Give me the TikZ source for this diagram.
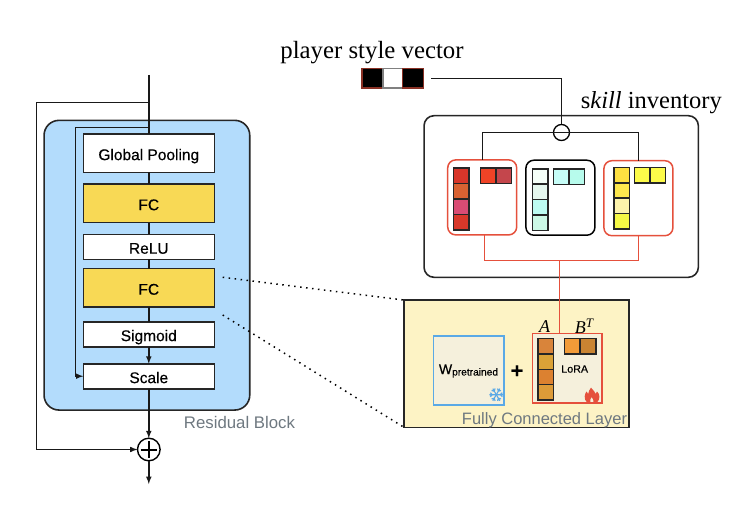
\documentclass[tikz,border=0pt]{standalone}
\usepackage{fontspec}
\setmainfont{Liberation Serif}
\newfontfamily\boxfont[FakeBold=0.35]{Liberation Sans}
\newfontfamily\plainfont{Liberation Sans}
\usetikzlibrary{arrows}
\definecolor{BlockClr}{HTML}{B3DCFC}
\definecolor{FcClr}{HTML}{F8D955}
\definecolor{LayerClr}{HTML}{FDF3C5}
\definecolor{InnerClr}{HTML}{F5F0DC}
\definecolor{RedClr}{HTML}{E5503C}
\definecolor{IceClr}{HTML}{5AA9E6}
\definecolor{CapClr}{HTML}{6E7880}
\newcommand{\fsz}[1]{\fontsize{#1}{#1}\selectfont}
\tikzset{
  layerbox/.style={draw=black!85,line width=1.6pt,fill=white,minimum width=131pt,
    inner sep=0pt,outer sep=0pt,font=\boxfont\fsz{15.5},text height=13.8pt,text depth=0pt},
  cellbox/.style={draw=black!85,line width=1.5pt,minimum width=15.5pt,minimum height=15.5pt,
    inner sep=0pt,outer sep=0pt},
  skillbox/.style={rounded corners=8pt,line width=1.5pt,fill=white,minimum width=69pt,
    minimum height=75pt,inner sep=0pt,outer sep=0pt},
  wire/.style={line width=1.5pt,black!90},
  redwire/.style={line width=1.8pt,RedClr},
  arrowwire/.style={wire,-latex},
  dotline/.style={line width=1.5pt,dash pattern=on 1.5pt off 4.5pt}
}
\begin{document}
\begin{tikzpicture}[x=1pt,y=-1pt]
\useasboundingbox (0,0) rectangle (744,508);

% Residual block on the left.
\node[draw=black!85,line width=1.6pt,rounded corners=15pt,fill=BlockClr,minimum width=205.7pt,
  minimum height=289.7pt,inner sep=0pt,outer sep=0pt] (blockbox) at (146.9,265.2) {};

\coordinate (intop) at (148.8,75);
\coordinate (outerturn) at (148.8,102.5);
\coordinate (outerleft) at (36.5,102.5);
\coordinate (innerturn) at (148.8,127.5);
\coordinate (innerleft) at (75.5,127.5);
\coordinate (outend) at (148.8,484);

\node[layerbox,minimum height=38.3pt] (poolbox) at (148.8,153.2) {Global Pooling};
\node[layerbox,minimum height=38.7pt,fill=FcClr] (fcabox) at (148.8,203.3) {FC};
\node[layerbox,minimum height=25pt] (relubox) at (148.8,246.8) {ReLU};
\node[layerbox,minimum height=38.3pt,fill=FcClr] (fcbbox) at (148.8,287.8) {FC};
\node[layerbox,minimum height=25pt] (sigbox) at (148.8,334.2) {Sigmoid};
\node[layerbox,minimum height=25pt] (scalebox) at (148.8,376.2) {Scale};
\node[draw=black,line width=1.4pt,circle,minimum size=22.6pt,inner sep=0pt,outer sep=0pt,fill=white] (plusnode) at (148.8,449.5) {};
\draw[line width=2pt] (plusnode.west) ++(3,0) -- ++(16.6,0);
\draw[line width=2pt] (plusnode.north) ++(0,3) -- ++(0,16.6);

\draw[wire] (intop) -- (poolbox.north);
\draw[wire] (poolbox) -- (fcabox) (fcabox) -- (relubox) (relubox) -- (fcbbox) (fcbbox) -- (sigbox);
\draw[arrowwire] (sigbox) -- (scalebox);
\draw[arrowwire] (scalebox) -- (plusnode);
\draw[arrowwire] (plusnode) -- (outend);
\draw[wire] (outerturn) -- (outerleft);
\draw[arrowwire] (outerleft) |- (plusnode);
\draw[wire] (innerturn) -- (innerleft);
\draw[arrowwire] (innerleft) |- (scalebox.west);

\node[font=\plainfont\fsz{16.8},text=CapClr,inner sep=0pt] (blockname) at (239.5,422.7) {Residual Block};

% Player style vector.
\node[font=\fsz{24.8},inner sep=0pt] (stylename) at (372,53) {player style vector};
\node[cellbox,draw=RedClr!60!black,fill=black,minimum width=21pt,minimum height=19.7pt] (stylea) at (372.5,78.2) {};
\node[cellbox,draw=black!50,fill=white,minimum width=19.7pt,minimum height=19.7pt] (styleb) at (392.8,78.2) {};
\node[cellbox,draw=RedClr!60!black,fill=black,minimum width=21pt,minimum height=19.7pt] (stylec) at (413,78.2) {};
\coordinate (stylestart) at (431,78.5);

% Skill inventory.
\node[draw=black!85,line width=1.6pt,rounded corners=10pt,minimum width=274.3pt,minimum height=161.6pt,
  inner sep=0pt,outer sep=0pt] (invbox) at (561.2,196.5) {};
\node[font=\fsz{24.5},inner sep=0pt,anchor=base west] (invname) at (580.7,108.5) {s\textit{kill} inventory};

\node[skillbox,draw=RedClr] (skilla) at (482.2,197.4) {};
\node[skillbox,draw=black] (skillb) at (560.4,197.7) {};
\node[skillbox,draw=RedClr] (skillc) at (638.4,198.2) {};

% Cells of each skill.
\foreach \n/\x/\y/\c in {1/461.2/175.9/D8362A,2/461.2/191.3/D96232,3/461.2/206.7/D94C74,4/461.2/222/D8382A,
  5/488.4/175.9/EF4326,6/503.8/175.9/C4464C,
  7/540.4/176.5/F5FFF8,8/540.4/191.9/E6F8EF,9/540.4/207.3/BDFCF2,10/540.4/222.5/CCF9E6,
  11/561.2/176.7/C6FDF7,12/576.8/176.7/B7FBEC,
  13/621.5/175.2/FEE041,14/621.5/190.5/FEE84E,15/621.5/205.8/FDF3AB,16/621.5/221/F5F845,
  17/642.4/175.4/FDFB4A,18/657.7/175.4/FDFB4A}{
  \definecolor{CellClr}{HTML}{\c}
  \node[cellbox,fill=CellClr] (cell\n) at (\x,\y) {};
}

\coordinate (mixleft) at (482.5,132.5);
\coordinate (mixright) at (638.5,132.5);
\node[draw=black,line width=1.3pt,circle,minimum size=16pt,inner sep=0pt,outer sep=0pt] (mixnode) at (561.5,132.5) {};
\draw[wire] (stylestart) -| (mixnode.north);
\draw[wire] (mixleft |- skilla.north) -- (mixleft) -- (mixright) -- (mixright |- skillc.north);

% Fully connected layer.
\node[draw=black!85,line width=1.6pt,fill=LayerClr,minimum width=225pt,minimum height=127.3pt,
  inner sep=0pt,outer sep=0pt] (layerbox) at (516.5,363.7) {};
\draw[dotline] (222.7,277.3) -- (layerbox.north west);
\draw[dotline] (222.7,315) -- (layerbox.south west);
\node[draw=IceClr,line width=1.6pt,fill=InnerClr,minimum width=70.7pt,minimum height=69pt,
  inner sep=0pt,outer sep=0pt] (frozenbox) at (468.7,370.2) {};
\node[draw=RedClr,line width=1.6pt,fill=InnerClr,minimum width=69.4pt,minimum height=69.7pt,
  inner sep=0pt,outer sep=0pt] (lorabox) at (567,368.2) {};

\foreach \n/\x/\y/\c in {1/545.5/346.2/D9843A,2/545.5/361.7/DBA237,3/545.5/377/DC8130,4/545.5/392.3/DD9B38,
  5/572.3/346.4/F29B38,6/588.3/346.4/C98432}{
  \definecolor{CellClr}{HTML}{\c}
  \node[cellbox,fill=CellClr] (lora\n) at (\x,\y) {};
}

\coordinate (redleft) at (484.5,260.5);
\coordinate (redright) at (638.5,260.5);
\coordinate (redmid) at (559.5,260.5);
\draw[redwire] (redleft |- skilla.south) -- (redleft) -- (redright) -- (redright |- skillc.south);
\draw[redwire] (redmid) -- (redmid |- lorabox.north);

\node[font=\itshape\fsz{18},inner sep=0pt] (aname) at (544.7,327) {A};
\node[font=\itshape\fsz{18},inner sep=0pt] (bname) at (584,326) {B\raisebox{6pt}{\fsz{13}T}};
\node[font=\boxfont\fsz{10.7},inner sep=0pt] (loraname) at (574.7,369) {LoRA};
\node[font=\plainfont,inner sep=0pt] (frozenname) at (468.5,371) {\boxfont\fsz{14}W\fsz{10.2}\raisebox{-1.5pt}{pretrained}};
\node[font=\boxfont\bfseries\fsz{21},inner sep=0pt] (plusname) at (517,371.5) {+};
\node[font=\plainfont\fsz{16.5},text=CapClr,inner sep=0pt] (layername) at (544.5,420) {Fully Connected Layer};

% Snowflake.
\foreach \a in {0,60,...,300}{
  \draw[IceClr,line width=1.1pt,shift={(496.3,394.7)},rotate=\a] (0,0) -- (7,0) (4,0) -- (6,2) (4,0) -- (6,-2);
}

% Flame.
\fill[RedClr,even odd rule] (591,387.7) .. controls (594,391) and (595,392) .. (595.5,394)
  .. controls (596.5,393.5) and (597,392.5) .. (597,391.5)
  .. controls (600,394) and (600.5,399) .. (597,402.5) -- (587,402.5)
  .. controls (583.5,399) and (584.5,394) .. (586.5,391.5)
  .. controls (586.8,393) and (587.2,393.5) .. (588.2,394)
  .. controls (588.5,391.5) and (589.5,389.5) .. (591,387.7) -- cycle
  (591.5,397) .. controls (590.5,398.5) and (589.8,400) .. (590.5,402.5) -- (593.5,402.5)
  .. controls (594,400) and (592.8,398.5) .. (591.5,397) -- cycle;
\end{tikzpicture}
\end{document}
